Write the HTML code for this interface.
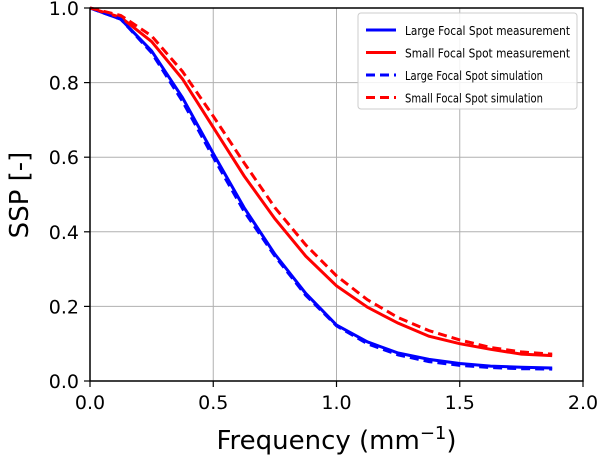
<!DOCTYPE html>
<html><head><meta charset="utf-8"><style>
html,body{margin:0;padding:0;background:#fff}
svg{display:block;font-family:"DejaVu Sans","Liberation Sans",sans-serif}
</style></head><body>
<svg id="chart" width="600" height="463"></svg>
<script>
const xValues=[0,0.125,0.25,0.375,0.5,0.625,0.75,0.875,1.0,1.125,1.25,1.375,1.5,1.625,1.75,1.875];
const blueMeas=[1.0,0.97,0.885,0.76,0.61,0.465,0.34,0.235,0.15,0.105,0.075,0.058,0.047,0.04,0.037,0.035];
const blueSim=[1.0,0.97,0.88,0.75,0.60,0.455,0.335,0.23,0.148,0.10,0.07,0.052,0.042,0.036,0.033,0.032];
const redMeas=[1.0,0.975,0.91,0.81,0.68,0.55,0.435,0.335,0.255,0.198,0.155,0.12,0.1,0.085,0.072,0.068];
const redSim=[1.0,0.98,0.925,0.83,0.71,0.585,0.465,0.365,0.282,0.218,0.17,0.135,0.11,0.09,0.078,0.072];
const xTicks=[0,0.5,1.0,1.5,2.0];
const xTickLabels=["0.0","0.5","1.0","1.5","2.0"];
const yTicks=[0,0.2,0.4,0.6,0.8,1.0];
const yTickLabels=["0.0","0.2","0.4","0.6","0.8","1.0"];
const legendLabels=["Large Focal Spot measurement","Small Focal Spot measurement","Large Focal Spot simulation","Small Focal Spot simulation"];

const L=90,R=583,T=8,B=381;
const sx=v=>L+(v/2)*(R-L);
const sy=v=>B-v*(B-T);
const svg=document.getElementById('chart');
const NS='http://www.w3.org/2000/svg';
function mk(tag,attrs,parent){const e=document.createElementNS(NS,tag);for(const k in attrs)e.setAttribute(k,attrs[k]);(parent||svg).appendChild(e);return e;}

xTicks.forEach((t,i)=>{
  const g=mk('line',{x1:sx(t),x2:sx(t),y1:T,y2:B,stroke:'#b0b0b0','stroke-width':1});
  
  
  const tk=mk('line',{x1:sx(t),x2:sx(t),y1:B,y2:B+6,stroke:'#000','stroke-width':1.2});
  
  
  const tx=mk('text',{x:sx(t),y:B+28,'text-anchor':'middle','font-size':19});
  tx.textContent=xTickLabels[i];
  
  
});
yTicks.forEach((t,i)=>{
  const g=mk('line',{x1:L,x2:R,y1:sy(t),y2:sy(t),stroke:'#b0b0b0','stroke-width':1});
  
  
  const tk=mk('line',{x1:L-6,x2:L,y1:sy(t),y2:sy(t),stroke:'#000','stroke-width':1.2});
  
  
  const tx=mk('text',{x:L-11,y:sy(t)+7,'text-anchor':'end','font-size':19});
  tx.textContent=yTickLabels[i];
  
  
});

function series(vals,color,dash,name){
  const p=mk('polyline',{points:vals.map((v,i)=>sx(xValues[i])+','+sy(v)).join(' '),fill:'none',stroke:color,'stroke-width':3,'stroke-dasharray':dash?'9,5':'none'});
  
  
}
series(blueMeas,'#0000ff',false,'large-focal-measurement-line');
series(redMeas,'#ff0000',false,'small-focal-measurement-line');
series(blueSim,'#0000ff',true,'large-focal-simulation-line');
series(redSim,'#ff0000',true,'small-focal-simulation-line');

const frame=mk('rect',{x:L,y:T,width:R-L,height:B-T,fill:'none',stroke:'#000','stroke-width':1.5});



const lg=mk('g',{});


mk('rect',{x:358,y:13,width:219,height:96,rx:3,fill:'#fff','fill-opacity':0.85,stroke:'#ccc'},lg);
const lc=['#0000ff','#ff0000','#0000ff','#ff0000'];
legendLabels.forEach((lab,i)=>{
  const y=30+i*22.5;
  const ln=mk('line',{x1:366,x2:396,y1:y,y2:y,stroke:lc[i],'stroke-width':3,'stroke-dasharray':i>1?'9,5':'none'},lg);
  
  
  const t=mk('text',{x:405,y:y+5,'font-size':12.5},lg);
  t.textContent=lab;
  if(i<2){t.setAttribute('textLength','165');t.setAttribute('lengthAdjust','spacingAndGlyphs');}
  else{t.setAttribute('textLength','138');t.setAttribute('lengthAdjust','spacingAndGlyphs');}
  
  
});

const xl=mk('text',{x:(L+R)/2,y:449,'text-anchor':'middle','font-size':26});
xl.innerHTML='Frequency (mm<tspan dy="-10" font-size="18">−1</tspan><tspan dy="10">)</tspan>';


const yl=mk('text',{x:0,y:0,'text-anchor':'middle','font-size':26,transform:'translate(28,195) rotate(-90)'});
yl.textContent='SSP [-]';


</script>
</body></html>
